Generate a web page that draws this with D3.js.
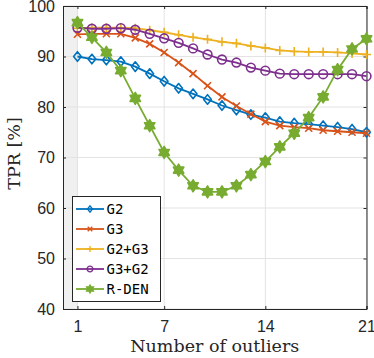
<!DOCTYPE html>
<html>
<head>
<meta charset="utf-8">
<script src="https://cdn.jsdelivr.net/npm/d3@7"></script>
<style>
  body { margin: 0; background: #fff; }
  svg { display: block; }
</style>
</head>
<body>
<div id="container"></div>
<script>
/* DATA */
const outliers = d3.range(1, 22);
const g2 = [90.0, 89.5, 89.3, 89.0, 88.0, 86.6, 85.1, 83.7, 82.6, 81.5, 80.3, 79.4, 78.5, 77.9, 77.1, 76.8, 76.6, 76.3, 76.0, 75.6, 75.0];
const g3 = [94.4, 94.5, 94.5, 94.5, 93.7, 92.5, 90.8, 88.8, 86.6, 84.2, 82.0, 80.2, 78.6, 77.1, 76.3, 76.0, 75.8, 75.4, 75.2, 75.0, 74.8];
const g2g3 = [95.6, 95.7, 95.7, 95.7, 95.6, 95.2, 94.8, 94.3, 93.8, 93.4, 92.9, 92.6, 92.1, 91.7, 91.2, 91.0, 90.9, 90.9, 90.8, 90.6, 90.4];
const g3g2 = [95.7, 95.5, 95.5, 95.6, 95.3, 94.5, 93.6, 92.7, 91.6, 90.4, 89.4, 88.8, 87.8, 87.2, 86.6, 86.5, 86.5, 86.5, 86.5, 86.5, 86.1];
const rden = [96.7, 93.8, 90.8, 87.2, 81.7, 76.3, 71.0, 67.5, 64.4, 63.2, 63.2, 64.4, 66.6, 69.2, 72.1, 74.8, 77.9, 82.0, 87.4, 91.5, 93.5];
const seriesNames = ["G2", "G3", "G2+G3", "G3+G2", "R-DEN"];
const seriesColors = ["#0072BD", "#D95319", "#EDB120", "#7E2F8E", "#77AC30"];
const seriesMarkers = ["diamond", "x", "plus", "circle", "hexagram"];
const xTicks = [1, 7, 14, 21];
const yTicks = [40, 50, 60, 70, 80, 90, 100];

const allSeries = [g2, g3, g2g3, g3g2, rden].map((vals, i) => ({
  name: seriesNames[i], color: seriesColors[i], marker: seriesMarkers[i],
  values: vals.map((v, j) => ({x: outliers[j], y: v}))
}));

/* CONSTANTS */
const width = 374, height = 358;
const margin = {top: 6, right: 7.5, bottom: 49, left: 63};

const svg = d3.select("#container").append("svg")
  .attr("width", width).attr("height", height);

/* SCALES */
const xScale = d3.scaleLinear().domain([0, 21]).range([margin.left, width - margin.right]);
const yScale = d3.scaleLinear().domain([40, 100]).range([height - margin.bottom, margin.top]);

// shaded band before the first point
svg.append("rect")
  .attr("x", xScale(0)).attr("y", yScale(100))
  .attr("width", xScale(1) - xScale(0)).attr("height", yScale(40) - yScale(100))
  .attr("fill", "#f0f0f0");

// grid
const grid = svg.append("g").attr("stroke", "#e3e3e3").attr("stroke-width", 1);
grid.selectAll(".gy").data(yTicks).join("line")
  .attr("x1", xScale(0)).attr("x2", xScale(21))
  .attr("y1", d => yScale(d)).attr("y2", d => yScale(d));
grid.selectAll(".gx").data(xTicks).join("line")
  .attr("x1", d => xScale(d)).attr("x2", d => xScale(d))
  .attr("y1", yScale(40)).attr("y2", yScale(100));

/* AXES */
const axisColor = "#262626";
const xAxis = d3.axisBottom(xScale).tickValues(xTicks).tickSize(-3).tickPadding(12);
const yAxis = d3.axisLeft(yScale).tickValues(yTicks).tickSize(-3).tickPadding(8);

const gx = svg.append("g").attr("transform", `translate(0,${yScale(40)})`).call(xAxis);
const gy = svg.append("g").attr("transform", `translate(${xScale(0)},0)`).call(yAxis);
const gxt = svg.append("g").attr("transform", `translate(0,${yScale(100)})`)
  .call(d3.axisTop(xScale).tickValues(xTicks).tickSize(-3).tickFormat(""));
const gyr = svg.append("g").attr("transform", `translate(${xScale(21)},0)`)
  .call(d3.axisRight(yScale).tickValues(yTicks).tickSize(-3).tickFormat(""));

[gx, gy, gxt, gyr].forEach(g => {
  g.select(".domain").attr("stroke", axisColor).attr("stroke-width", 1);
  g.selectAll(".tick line").attr("stroke", axisColor);
  g.selectAll("text").attr("fill", "#262626")
    .style("font-family", "'Liberation Sans', Arial, sans-serif").style("font-size", "16px");
});

/* MARKERS */
function markerPath(type, s) {
  if (type === "diamond") {
    const w = s * 0.8, h = s;
    return `M0,${-h}L${w},0L0,${h}L${-w},0Z`;
  }
  if (type === "x") return `M${-s},${-s}L${s},${s}M${-s},${s}L${s},${-s}`;
  if (type === "plus") return `M${-s},0L${s},0M0,${-s}L0,${s}`;
  if (type === "circle") return `M${s},0A${s},${s} 0 1,1 ${-s},0A${s},${s} 0 1,1 ${s},0Z`;
  if (type === "hexagram") {
    const pts = d3.range(12).map(k => {
      const a = -Math.PI / 2 + k * Math.PI / 6;
      const r = k % 2 === 0 ? s : s * 0.58;
      return [r * Math.cos(a), r * Math.sin(a)];
    });
    return "M" + pts.map(p => p.join(",")).join("L") + "Z";
  }
}
const markerSize = {diamond: 4.8, x: 3.5, plus: 4.5, circle: 4.4, hexagram: 6};

/* LINES */
const line = d3.line().x(d => xScale(d.x)).y(d => yScale(d.y));

allSeries.forEach(s => {
  const g = svg.append("g");
  g.append("path").datum(s.values)
    .attr("d", line).attr("fill", "none")
    .attr("stroke", s.color).attr("stroke-width", 1.8);
  g.selectAll("path.m").data(s.values).join("path")
    .attr("class", "m")
    .attr("transform", d => `translate(${xScale(d.x)},${yScale(d.y)})`)
    .attr("d", markerPath(s.marker, markerSize[s.marker]))
    .attr("fill", s.marker === "hexagram" ? s.color : "none")
    .attr("stroke", s.color).attr("stroke-width", 1.6)
    .attr("stroke-linejoin", "round");
});

/* LABELS */
svg.append("text")
  .attr("x", (xScale(0) + xScale(21)) / 2).attr("y", 352)
  .attr("text-anchor", "middle").attr("fill", "#262626")
  .style("font-family", "'DejaVu Serif', serif").style("font-size", "17.5px")
  .text("Number of outliers");

svg.append("text")
  .attr("transform", `translate(20,${(yScale(40) + yScale(100)) / 2 - 4}) rotate(-90)`)
  .attr("text-anchor", "middle").attr("fill", "#262626")
  .style("font-family", "'DejaVu Serif', serif").style("font-size", "17.5px")
  .text("TPR [%]");

/* LEGEND */
const legend = svg.append("g");
legend.append("rect")
  .attr("x", 72.5).attr("y", 196.5).attr("width", 88).attr("height", 105)
  .attr("fill", "#fff").attr("stroke", "#262626").attr("stroke-width", 1);

allSeries.forEach((s, i) => {
  const yy = 209 + i * 20;
  legend.append("line")
    .attr("x1", 76).attr("x2", 104).attr("y1", yy).attr("y2", yy)
    .attr("stroke", s.color).attr("stroke-width", 1.8);
  legend.append("path")
    .attr("transform", `translate(90,${yy})`)
    .attr("d", markerPath(s.marker, markerSize[s.marker] * 0.65))
    .attr("fill", s.marker === "hexagram" ? s.color : "none")
    .attr("stroke", s.color).attr("stroke-width", 1.4);
  legend.append("text")
    .attr("x", 106.5).attr("y", yy + 5)
    .attr("fill", "#000")
    .style("font-family", "'DejaVu Sans Mono', monospace").style("font-size", "14px")
    .text(s.name);
});
</script>
</body>
</html>
